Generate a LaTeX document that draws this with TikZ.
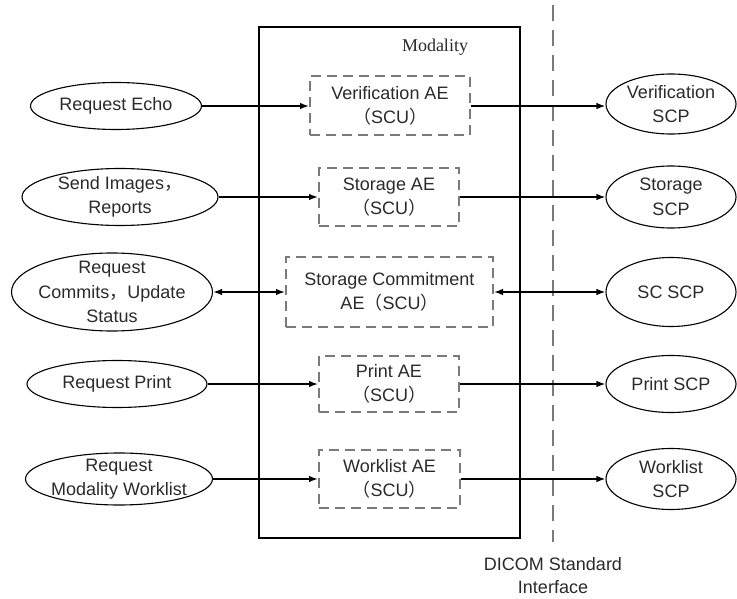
\documentclass[tikz,border=0pt]{standalone}
\usepackage{fontspec}
\setmainfont{Liberation Sans}
\newfontfamily\serifmod{Liberation Serif}
\newfontfamily\cjk{Noto Sans CJK SC}
\usetikzlibrary{shapes.geometric,arrows.meta}
\newcommand\lpar{{\cjk （}}
\newcommand\rpar{{\cjk ）}}
\newcommand\fcomma{{\cjk ，}}
\definecolor{dgray}{HTML}{7A7A7A}
\definecolor{txtc}{HTML}{2A2A2A}
\begin{document}
\begin{tikzpicture}[x=1pt,y=-1pt,
  ell/.style={ellipse, draw=black, line width=1.1pt, inner sep=0pt},
  aebox/.style={rectangle, draw=dgray, line width=2pt, dash pattern=on 10pt off 6pt, inner sep=0pt},
  txt/.style={text=txtc, font=\fontsize{18}{24.5}\selectfont, align=center, inner sep=0pt},
  conn/.style={line width=1.4pt, -{Latex[length=9pt,width=6.5pt]}},
  bconn/.style={line width=1.4pt, {Latex[length=9pt,width=6.5pt]}-{Latex[length=9pt,width=6.5pt]}},
  dline/.style={draw=dgray, line width=2pt, dash pattern=on 16pt off 9pt}
]
\useasboundingbox (0,0) rectangle (737,599);

% Modality box
\node[rectangle, draw=black, line width=1.3pt, minimum width=261pt, minimum height=511pt, inner sep=0pt] (mod) at (389.5,282.5) {};
\node[txt, font=\serifmod\fontsize{18}{22}\selectfont] (modlbl) at (435,47) {Modality};

% DICOM interface line
\coordinate (dtop) at (553,5);
\coordinate (dbot) at (553,542);
\draw[dline] (dtop) -- (dbot);
\node[txt, font=\fontsize{18}{23}\selectfont] (dicom) at (553,576) {DICOM Standard\\Interface};

% Left ellipses
\node[ell, minimum width=171pt, minimum height=47pt] (l1) at (116,106) {};
\node[ell, minimum width=196pt, minimum height=57pt] (l2) at (120,197) {};
\node[ell, minimum width=201pt, minimum height=78pt] (l3) at (112,292) {};
\node[ell, minimum width=180pt, minimum height=47pt] (l4) at (117,384) {};
\node[ell, minimum width=187pt, minimum height=52pt] (l5) at (119,479) {};
\node[txt] (l1t) at (l1) {Request Echo};
\node[txt] (l2t) at (l2) {Send Images\fcomma\\Reports};
\node[txt] (l3t) at (l3) {Request\\Commits\fcomma Update\\Status};
\node[txt] (l4t) at (l4) {Request Print};
\node[txt] (l5t) at (l5) {Request\\Modality Worklist};

% AE boxes
\node[aebox, minimum width=160pt, minimum height=59pt] (a1) at (390,106) {};
\node[aebox, minimum width=140pt, minimum height=58pt] (a2) at (389,197) {};
\node[aebox, minimum width=207pt, minimum height=70pt] (a3) at (389.5,292) {};
\node[aebox, minimum width=140pt, minimum height=56pt] (a4) at (389,384) {};
\node[aebox, minimum width=141pt, minimum height=58pt] (a5) at (389.5,479) {};
\node[txt] (a1t) at (a1) {Verification AE\\\lpar SCU\rpar};
\node[txt] (a2t) at (a2) {Storage AE\\\lpar SCU\rpar};
\node[txt] (a3t) at (a3) {Storage Commitment\\AE\lpar SCU\rpar};
\node[txt] (a4t) at (a4) {Print AE\\\lpar SCU\rpar};
\node[txt] (a5t) at (a5) {Worklist AE\\\lpar SCU\rpar};

% Right ellipses
\node[ell, minimum width=130pt, minimum height=60pt] (r1) at (671,104) {};
\node[ell, minimum width=130pt, minimum height=62pt] (r2) at (671,197) {};
\node[ell, minimum width=130pt, minimum height=69pt] (r3) at (671,292) {};
\node[ell, minimum width=130pt, minimum height=57pt] (r4) at (671,384) {};
\node[ell, minimum width=130pt, minimum height=61pt] (r5) at (671,479) {};
\node[txt] (r1t) at (r1) {Verification\\SCP};
\node[txt] (r2t) at (r2) {Storage\\SCP};
\node[txt] (r3t) at (r3) {SC SCP};
\node[txt] (r4t) at (r4) {Print SCP};
\node[txt] (r5t) at (r5) {Worklist\\SCP};

% Connectors
\draw[conn] (l1.east) -- (a1.west);
\draw[conn] (a1.east) -- (r1.west |- a1.east);
\draw[conn] (l2.east) -- (a2.west);
\draw[conn] (a2.east) -- (r2.west);
\draw[bconn] (l3.east) -- (a3.west);
\draw[bconn] (a3.east) -- (r3.west);
\draw[conn] (l4.east) -- (a4.west);
\draw[conn] (a4.east) -- (r4.west);
\draw[conn] (l5.east) -- (a5.west);
\draw[conn] (a5.east) -- (r5.west);
\end{tikzpicture}
\end{document}
